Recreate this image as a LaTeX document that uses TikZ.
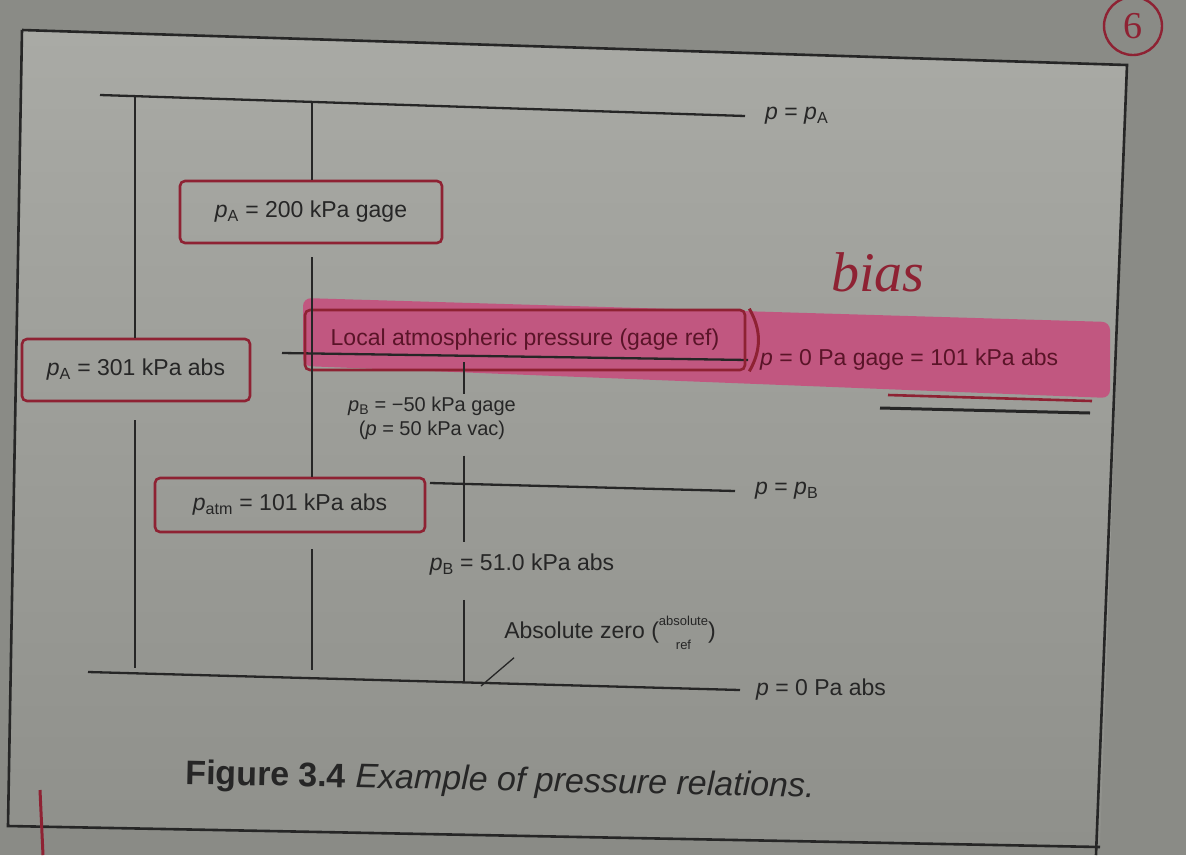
\documentclass[tikz,border=0pt]{standalone}
\usepackage{fontspec}
\setmainfont{Liberation Sans}
\newfontfamily\handfont{Liberation Serif}
\usetikzlibrary{positioning}
\definecolor{backdrop}{HTML}{8A8B86}
\definecolor{papertop}{HTML}{A9AAA5}
\definecolor{paperbot}{HTML}{8F908B}
\definecolor{ink}{HTML}{262626}
\definecolor{penred}{HTML}{8E2233}
\definecolor{hilite}{HTML}{C5507E}
\definecolor{hiink}{HTML}{5A1428}
\newcommand{\pvar}[1]{\textit{p}\textsubscript{#1}}

\begin{document}
\begin{tikzpicture}[x=1pt,y=-1pt,
  lbl/.style={font=\fontsize{23}{27}\selectfont, text=ink, inner sep=2pt},
  penbox/.style={draw=penred, line width=2.6pt, rounded corners=5pt},
  levelline/.style={draw=ink, line width=2.3pt},
  dimline/.style={draw=ink, line width=1.9pt}]
  \useasboundingbox (0,0) rectangle (1186,855);

  % Photo background and the sheet.
  \fill[backdrop] (0,0) rectangle (1186,855);
  \shade[top color=papertop, bottom color=paperbot]
    (22,30) -- (1127,65) -- (1100,847) -- (8,826) -- cycle;
  \draw[ink, line width=2.6pt] (22,30) -- (1127,65) -- (1096,855);
  \draw[ink, line width=2.6pt] (22,30) -- (8,826) -- (1100,847);

  % Highlighter over the atmospheric level.
  \fill[hilite, opacity=0.9, rounded corners=8pt]
    (303,298) -- (1110,322) -- (1110,398) -- (303,366) -- cycle;

  % Pressure levels.
  \coordinate (topL) at (100,95);
  \coordinate (topR) at (745,116);
  \coordinate (atmL) at (282,353);
  \coordinate (atmR) at (748,360);
  \coordinate (vacL) at (430,483);
  \coordinate (vacR) at (735,491);
  \coordinate (zeroL) at (88,672);
  \coordinate (zeroR) at (740,690);
  \draw[levelline] (topL) -- (topR);
  \draw[levelline] (atmL) -- (atmR);
  \draw[levelline] (vacL) -- (vacR);
  \draw[levelline] (zeroL) -- (zeroR);
  \node[lbl, right=18pt of topR] (pAlvl) {\textit{p} = \pvar{A}};
  \node[lbl, text=hiink, right=10pt of atmR] (atmlvl)
    {\textit{p} = 0 Pa gage = 101 kPa abs};
  \node[lbl, right=18pt of vacR] (pBlvl) {\textit{p} = \pvar{B}};
  \node[lbl, right=14pt of zeroR] (zerolvl) {\textit{p} = 0 Pa abs};

  % Labelled pressures.
  \node[lbl, penbox, minimum width=262pt, minimum height=62pt]
    (pAg) at (311,212) {\pvar{A} = 200 kPa gage};
  \node[lbl, penbox, minimum width=228pt, minimum height=62pt]
    (pAa) at (136,370) {\pvar{A} = 301 kPa abs};
  \node[lbl, penbox, text=hiink, minimum width=440pt, minimum height=60pt]
    (local) at (525,340) {Local atmospheric pressure (gage ref)};
  \node[lbl, penbox, minimum width=270pt, minimum height=54pt]
    (patm) at (290,505) {\pvar{atm} = 101 kPa abs};
  \node[lbl, align=center, font=\fontsize{20}{24}\selectfont]
    (pBg) at (432,418) {\pvar{B} = −50 kPa gage\\(\textit{p} = 50 kPa vac)};
  \node[lbl] (pBa) at (522,565) {\pvar{B} = 51.0 kPa abs};
  \node[lbl] (absz) at (610,632) {Absolute zero (\begin{tabular}{@{}c@{}}%
    \fontsize{13}{13}\selectfont absolute\\[-3pt]
    \fontsize{13}{13}\selectfont ref\end{tabular})};
  \draw[penred, line width=3pt] ([xshift=3pt]local.north east)
    to[bend left=30] ([xshift=3pt]local.south east);

  % Dimension lines.
  \coordinate (v1t) at (135,97);
  \coordinate (v1b) at (135,668);
  \draw[dimline] (v1t) -- (v1t |- pAa.north);
  \draw[dimline] ([yshift=-18pt]pAa.south -| v1b) -- (v1b);
  \coordinate (v2t) at (312,101);
  \coordinate (v2b) at (312,670);
  \draw[dimline] (v2t) -- (v2t |- pAg.north);
  \draw[dimline] ([yshift=-13pt]pAg.south -| v2b) -- (v2b |- patm.north);
  \draw[dimline] ([yshift=-16pt]patm.south -| v2b) -- (v2b);
  \coordinate (v3t) at (464,362);
  \coordinate (v3b) at (464,682);
  \draw[dimline] (v3t) -- (v3t |- pBg.north);
  \draw[dimline] ([yshift=-14pt]pBg.south -| v3t)
    -- ([yshift=10pt]pBa.north -| v3t);
  \draw[dimline] ([yshift=-22pt]pBa.south -| v3b) -- (v3b);

  % Pointer to absolute zero.
  \coordinate (zeroPt) at (481,686);
  \draw[dimline, line width=1.3pt]
    ([xshift=12pt,yshift=2pt]absz.south west) -- (zeroPt);

  % Caption.
  \node[font=\fontsize{34}{40}\selectfont, text=ink, rotate=-1.2]
    (caption) at (500,782)
    {\textbf{Figure 3.4} \textit{Example of pressure relations.}};

  % Handwritten marks.
  \node[font=\handfont\itshape\fontsize{56}{56}\selectfont, text=penred]
    (bias) at (878,272) {bias};
  \node[draw=penred, circle, line width=2.4pt, minimum size=58pt,
    inner sep=0pt, text=penred, font=\handfont\fontsize{38}{38}\selectfont]
    (pagenum) at (1133,26) {6};
  \draw[penred, line width=2.6pt] (888,395) -- (1092,401);
  \draw[ink, line width=3pt] (880,408) -- (1090,413);
  \draw[penred, line width=3pt] (40,790) -- (43,855);
\end{tikzpicture}
\end{document}
